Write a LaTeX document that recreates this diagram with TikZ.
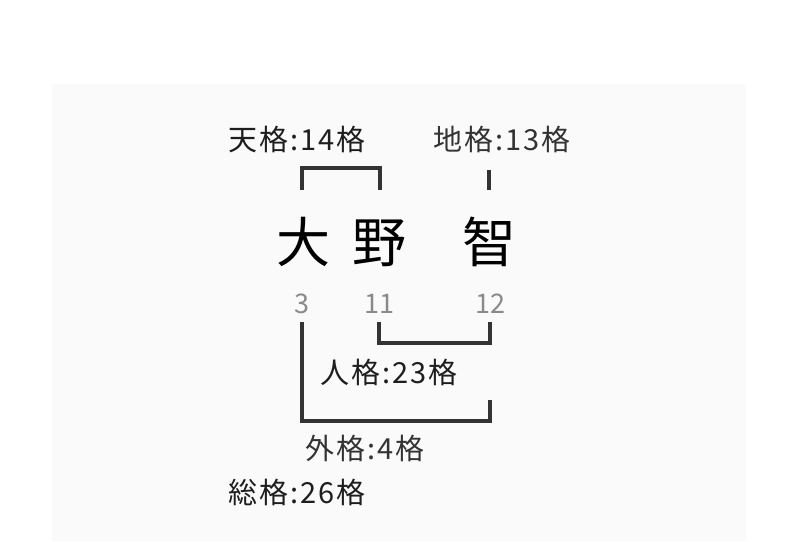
\documentclass[tikz,border=0pt]{standalone}
\usepackage{fontspec}
\setmainfont{Noto Sans CJK JP}
\newfontfamily\lblfont[LetterSpace=7]{Noto Sans CJK JP}
\definecolor{bgc}{HTML}{FAFAFA}
\definecolor{linec}{HTML}{333333}
\definecolor{txtc}{HTML}{1E1E1E}
\definecolor{numc}{HTML}{8A8A8A}
\begin{document}
\begin{tikzpicture}[x=1pt,y=-1pt,
  lbl/.style={anchor=base west,inner sep=0pt,font=\lblfont\fontsize{29}{29}\selectfont,text=txtc},
  big/.style={anchor=base,inner sep=0pt,font=\fontsize{54}{54}\selectfont,text=black},
  num/.style={anchor=base,inner sep=0pt,font=\fontsize{27}{27}\selectfont,text=numc},
  brk/.style={draw=linec,line width=3.5pt,line cap=butt,line join=miter}]
\useasboundingbox (0,0) rectangle (800,541);
\fill[white] (0,0) rectangle (800,541);
\fill[bgc] (52,84) rectangle (746,541);
% labels
\node[lbl] (ten) at (228,150) {天格:14格};
\node[lbl,text=linec] (chi) at (433,150) {地格:13格};
\node[lbl] (jin) at (320,383) {人格:23格};
\node[lbl,text=linec] (gai) at (305,459) {外格:4格};
\node[lbl] (sou) at (228,503) {総格:26格};
% name
\node[big] (c1) at (303,262) {大};
\node[big] (c2) at (379,262) {野};
\node[big] (c3) at (489,262) {智};
% stroke counts
\node[num] (n1) at (302,313) {3};
\node[num] (n2) at (379,313) {11};
\node[num] (n3) at (490,313) {12};
% bracket coordinates
\coordinate (t1) at (302,190);
\coordinate (t2) at (380,190);
\coordinate (tc) at (341,168);
\coordinate (d1) at (489,170);
\coordinate (d2) at (489,190);
\coordinate (j1) at (379,322);
\coordinate (j2) at (490,322);
\coordinate (jc) at (434,343);
\coordinate (g1) at (302,322);
\coordinate (g2) at (490,400);
\coordinate (gc) at (396,421);
% brackets
\draw[brk] (t1) -- (t1 |- tc) -- (t2 |- tc) -- (t2);
\draw[brk] (d1) -- (d2);
\draw[brk] (j1) -- (j1 |- jc) -- (j2 |- jc) -- (j2);
\draw[brk] (g1) -- (g1 |- gc) -- (g2 |- gc) -- (g2);
\end{tikzpicture}
\end{document}
